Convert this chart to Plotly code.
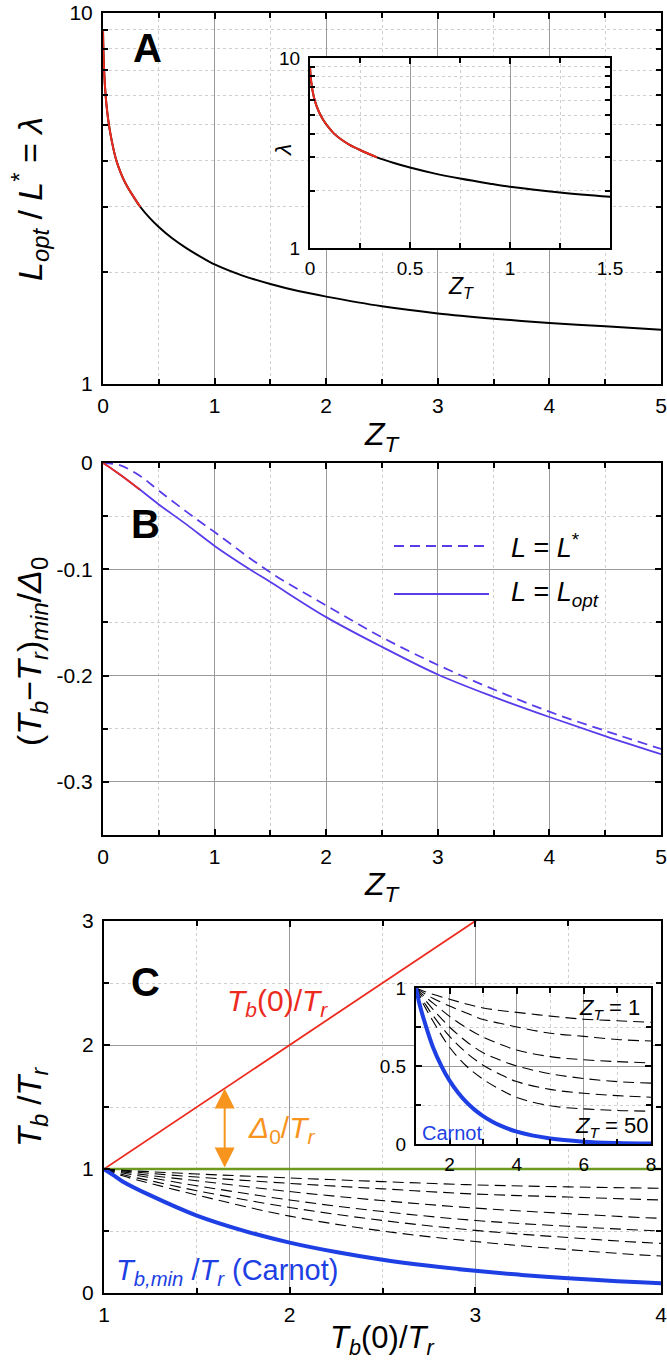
import plotly.graph_objects as go

W, H = 667, 1362

# ---------------- data ----------------
# Panel A: optimal length ratio lambda vs Z_T
zt_a = [0, 0.002, 0.006, 0.012, 0.02, 0.03, 0.045, 0.065, 0.09, 0.12, 0.16, 0.2, 0.25,
        0.335, 0.42, 0.5, 0.62, 0.75, 0.9, 1.0, 1.25, 1.5, 1.75, 2.0, 2.5, 3.0, 3.5,
        4.0, 4.5, 5.0]
lam_a = [9.0, 8.3, 7.5, 6.8, 6.2, 5.7, 5.2, 4.75, 4.35, 4.0, 3.7, 3.48, 3.28,
         3.0, 2.8, 2.65, 2.47, 2.32, 2.18, 2.1, 1.96, 1.86, 1.78, 1.72, 1.62, 1.55, 1.50,
         1.46, 1.43, 1.40]
zt_a_cut = 0.335  # end of the red branch

# Panel B: minimum normalised temperature drop
zt_b_opt = [0, 0.1, 0.2, 0.33, 0.5, 0.75, 1.0, 1.3, 1.5, 2.0, 2.5, 3.0, 3.5, 4.0, 4.5, 5.0]
drop_opt = [0, -0.007, -0.0145, -0.025, -0.039, -0.058, -0.078, -0.099, -0.112,
            -0.145, -0.173, -0.199, -0.220, -0.239, -0.257, -0.274]
zt_b_star = [0, 0.15, 0.33, 0.5, 0.75, 1.0, 1.5, 2.0, 2.5, 3.0, 3.5, 4.0, 4.5, 5.0]
drop_star = [0, -0.002, -0.012, -0.026, -0.046, -0.065, -0.103, -0.134, -0.164,
             -0.190, -0.213, -0.234, -0.252, -0.269]
zt_b_cut = 0.33

# Panel C: T_b/T_r vs T_b(0)/T_r
tb0_carnot = [1, 1.05, 1.1, 1.25, 1.5, 1.75, 2, 2.25, 2.5, 2.75, 3, 3.25, 3.5, 4, 5, 6, 7, 8]
carnot = [1, 0.95, 0.90, 0.787, 0.624, 0.503, 0.406, 0.33, 0.268, 0.219, 0.179, 0.146,
          0.119, 0.079, 0.035, 0.015, 0.0064, 0.0027]
tb0 = [1, 1.1, 1.25, 1.5, 2, 2.5, 3, 3.5, 4, 5, 6, 7, 8]
tb_curves = {
    "1":  [1, 0.990, 0.978, 0.960, 0.928, 0.898, 0.872, 0.856, 0.844, 0.82, 0.80, 0.79, 0.78],
    "2":  [1, 0.985, 0.965, 0.935, 0.884, 0.840, 0.798, 0.774, 0.750, 0.71, 0.69, 0.67, 0.66],
    "5":  [1, 0.977, 0.948, 0.905, 0.818, 0.745, 0.685, 0.640, 0.602, 0.56, 0.54, 0.528, 0.52],
    "10": [1, 0.968, 0.930, 0.865, 0.750, 0.657, 0.585, 0.538, 0.500, 0.45, 0.42, 0.40, 0.39],
    "20": [1, 0.955, 0.905, 0.825, 0.690, 0.585, 0.505, 0.447, 0.400, 0.35, 0.325, 0.31, 0.30],
    "50": [1, 0.945, 0.884, 0.790, 0.620, 0.500, 0.415, 0.350, 0.298, 0.245, 0.225, 0.215, 0.21],
}
tr_x = [1, 8]
tr_level = [1, 1]
delta_at = 1.65  # position of the Delta_0 arrow

RED = "#ec2a1e"
PURPLE = "#5a3ceb"
BLUE = "#1d3fe3"
ORANGE = "#f7941d"
GREEN = "#6b9a22"
FONT = "Liberation Sans, Arial, sans-serif"


def px(x):
    return x / W


def py(y):
    return 1 - y / H


fig = go.Figure()

# Panel A main + inset: full curve in black, low-Z branch overdrawn in red
ia = [i for i, z in enumerate(zt_a) if z <= zt_a_cut]
for xa, ya in (("x", "y"), ("x2", "y2")):
    fig.add_trace(go.Scatter(x=zt_a, y=lam_a, mode="lines",
                             line=dict(color="black", width=2, shape="spline", smoothing=0.8),
                             xaxis=xa, yaxis=ya, showlegend=False))
    fig.add_trace(go.Scatter(x=[zt_a[i] for i in ia], y=[lam_a[i] for i in ia],
                             mode="lines", line=dict(color=RED, width=2, shape="spline", smoothing=0.8),
                             xaxis=xa, yaxis=ya, showlegend=False))

# Panel B
fig.add_trace(go.Scatter(x=zt_b_star, y=drop_star, mode="lines",
                         line=dict(color=PURPLE, width=1.8, dash="10px,6px", shape="spline"),
                         xaxis="x3", yaxis="y3", showlegend=False))
fig.add_trace(go.Scatter(x=zt_b_opt, y=drop_opt, mode="lines",
                         line=dict(color=PURPLE, width=1.8, shape="spline"),
                         xaxis="x3", yaxis="y3", showlegend=False))
jb = [i for i, z in enumerate(zt_b_opt) if z <= zt_b_cut]
fig.add_trace(go.Scatter(x=[zt_b_opt[i] for i in jb], y=[drop_opt[i] for i in jb], mode="lines",
                         line=dict(color=RED, width=1.8, shape="spline"),
                         xaxis="x3", yaxis="y3", showlegend=False))

# Panel C
fig.add_trace(go.Scatter(x=tb0, y=tb0, mode="lines", line=dict(color=RED, width=1.8),
                         xaxis="x4", yaxis="y4", showlegend=False))
fig.add_trace(go.Scatter(x=tr_x, y=tr_level, mode="lines", line=dict(color=GREEN, width=2.5),
                         xaxis="x4", yaxis="y4", showlegend=False))
for xa, ya in (("x4", "y4"), ("x5", "y5")):
    for key, vals in tb_curves.items():
        fig.add_trace(go.Scatter(x=tb0, y=vals, mode="lines",
                                 line=dict(color="black", width=1.1, dash="11px,6px", shape="spline"),
                                 xaxis=xa, yaxis=ya, showlegend=False))
    fig.add_trace(go.Scatter(x=tb0_carnot, y=carnot, mode="lines",
                             line=dict(color=BLUE, width=4, shape="spline"),
                             xaxis=xa, yaxis=ya, showlegend=False))

# ---------------- axes ----------------
MAJ_GRID = "#9a9a9a"
MIN_GRID = "#cfcfcf"


def lin_axis(dom, rng, tickvals, ticktext, minor_dtick, minor_tick0, size=21, anchor=None):
    d = dict(domain=dom, range=rng, tickmode="array", tickvals=tickvals, ticktext=ticktext,
             ticks="inside", ticklen=6, tickwidth=1.5, tickcolor="black",
             showline=True, linewidth=2, linecolor="black", mirror="allticks",
             showgrid=True, gridcolor=MAJ_GRID, gridwidth=1, zeroline=False,
             tickfont=dict(family=FONT, size=size, color="black"),
             ticklabeloverflow="allow",
             minor=dict(dtick=minor_dtick, tick0=minor_tick0, ticks="inside", ticklen=5,
                        tickwidth=1.5, tickcolor="black", showgrid=True,
                        gridcolor=MIN_GRID, griddash="dot", gridwidth=1),
             automargin=False, fixedrange=True)
    if anchor:
        d["anchor"] = anchor
    return d


def log_axis(dom, size=21, anchor=None):
    d = dict(domain=dom, type="log", range=[0, 1], tickmode="array", tickvals=[1, 10],
             ticktext=["1", "10"], ticks="inside", ticklen=6, tickwidth=1.5, tickcolor="black",
             showline=True, linewidth=2, linecolor="black", mirror="allticks",
             showgrid=True, gridcolor=MAJ_GRID, zeroline=False,
             tickfont=dict(family=FONT, size=size, color="black"),
             ticklabeloverflow="allow",
             minor=dict(tickvals=[2, 3, 4, 5, 6, 7, 8, 9], ticks="inside", ticklen=5,
                        tickwidth=1.5, tickcolor="black", showgrid=True,
                        gridcolor=MIN_GRID, griddash="dot", gridwidth=1),
             automargin=False, fixedrange=True)
    if anchor:
        d["anchor"] = anchor
    return d


ax_a = [px(103), px(661)]
ay_a = [py(384), py(13)]
ax_ai = [px(310), px(610)]
ay_ai = [py(248), py(58)]
ay_b = [py(835), py(463)]
ax_c = [px(104), px(661)]
ay_c = [py(1293), py(921)]
ax_ci = [px(416), px(651)]
ay_ci = [py(1144), py(988)]

zt_ticks = [0, 1, 2, 3, 4, 5]
fig.update_layout(
    xaxis=lin_axis(ax_a, [0, 5], zt_ticks, [str(v) for v in zt_ticks], 0.5, 0, anchor="y"),
    yaxis=log_axis(ay_a, anchor="x"),
    xaxis2=lin_axis(ax_ai, [0, 1.5], [0, 0.5, 1, 1.5], ["0", "0.5", "1", "1.5"], 0.25, 0,
                    size=19, anchor="y2"),
    yaxis2=log_axis(ay_ai, size=19, anchor="x2"),
    xaxis3=lin_axis(ax_a, [0, 5], zt_ticks, [str(v) for v in zt_ticks], 0.5, 0, anchor="y3"),
    yaxis3=lin_axis(ay_b, [-0.35, 0], [0, -0.1, -0.2, -0.3], ["0", "-0.1", "-0.2", "-0.3"],
                    0.05, 0, anchor="x3"),
    xaxis4=lin_axis(ax_c, [1, 4], [1, 2, 3, 4], ["1", "2", "3", "4"], 0.5, 1, anchor="y4"),
    yaxis4=lin_axis(ay_c, [0, 3], [0, 1, 2, 3], ["0", "1", "2", "3"], 0.5, 0, anchor="x4"),
    xaxis5=lin_axis(ax_ci, [1, 8], [2, 4, 6, 8], ["2", "4", "6", "8"], 1, 1, size=19, anchor="y5"),
    yaxis5=lin_axis(ay_ci, [0, 1], [0, 0.5, 1], ["0", "0.5", "1"], 0.25, 0, size=19, anchor="x5"),
)
for k in ("yaxis", "yaxis2", "yaxis3", "yaxis4", "yaxis5"):
    fig.layout[k].ticklabelstandoff = 4
for k in ("xaxis", "xaxis2", "xaxis3", "xaxis4", "xaxis5"):
    fig.layout[k].ticklabelstandoff = 2
for k in ("xaxis2", "yaxis2", "xaxis5", "yaxis5"):
    fig.layout[k].gridcolor = MAJ_GRID

# ---------------- text ----------------
ann = []


def txt(x, y, text, size, color="black", angle=0, xanchor="center", yanchor="middle"):
    ann.append(dict(x=px(x), y=py(y), xref="paper", yref="paper", text=text, showarrow=False,
                    font=dict(family=FONT, size=size, color=color), textangle=angle,
                    xanchor=xanchor, yanchor=yanchor))


ZT = "<i>Z</i><sub><i>T</i></sub>"
# panel letters
txt(147, 48, "<b>A</b>", 40)
txt(145, 524, "<b>B</b>", 40)
txt(145, 982, "<b>C</b>", 40)
# panel A
txt(382, 436, ZT, 32)
txt(30, 199, "<i>L</i><sub><i>opt</i></sub> / <i>L</i><sup>*</sup> = <i>λ</i>", 34, angle=-90)
txt(461, 288, ZT, 23)
txt(283, 151, "<i>λ</i>", 23, angle=-90)
# panel B
txt(382, 887, ZT, 32)
txt(32, 652, "(<i>T</i><sub><i>b</i></sub>−<i>T</i><sub><i>r</i></sub>)<sub><i>min</i></sub>/<i>Δ</i><sub>0</sub>",
    34, angle=-90)
txt(509, 546, "<i>L</i> = <i>L</i><sup>*</sup>", 27, xanchor="left")
txt(509, 594, "<i>L</i> = <i>L</i><sub><i>opt</i></sub>", 27, xanchor="left")
# panel C
txt(382, 1340, "<i>T</i><sub><i>b</i></sub>(0)/<i>T</i><sub><i>r</i></sub>", 31)
txt(32, 1107, "<i>T</i><sub><i>b</i></sub> /<i>T</i><sub><i>r</i></sub>", 33, angle=-90)
txt(277, 1003, "<i>T</i><sub><i>b</i></sub>(0)/<i>T</i><sub><i>r</i></sub>", 30, color=RED)
txt(282, 1129, "<i>Δ</i><sub>0</sub>/<i>T</i><sub><i>r</i></sub>", 30, color=ORANGE)
txt(114, 1272, "<i>T</i><sub><i>b,min</i></sub> /<i>T</i><sub><i>r</i></sub> (Carnot)", 29,
    color=BLUE, xanchor="left")
txt(609, 1009, "<i>Z</i><sub><i>T</i></sub> = 1", 22)
txt(611, 1127, "<i>Z</i><sub><i>T</i></sub> = 50", 22)
txt(452, 1133, "Carnot", 20, color=BLUE)

# Delta_0 double arrow
ann.append(dict(x=delta_at, y=delta_at, ax=delta_at, ay=tr_level[0], xref="x4", yref="y4",
                axref="x4", ayref="y4", showarrow=True, arrowside="end+start",
                arrowhead=2, startarrowhead=2, arrowsize=2.0, startarrowsize=2.0,
                arrowwidth=2, arrowcolor=ORANGE, text=""))

# legend sample lines for panel B
shapes = [
    dict(type="line", xref="paper", yref="paper", x0=px(394), x1=px(489), y0=py(546), y1=py(546),
         line=dict(color=PURPLE, width=1.8, dash="10px,6px")),
    dict(type="line", xref="paper", yref="paper", x0=px(394), x1=px(489), y0=py(594), y1=py(594),
         line=dict(color=PURPLE, width=1.8)),
]

fig.update_layout(width=W, height=H, margin=dict(l=0, r=0, t=0, b=0),
                  paper_bgcolor="white", plot_bgcolor="white", annotations=ann, shapes=shapes,
                  font=dict(family=FONT, color="black"), showlegend=False)

fig.write_html("out.html")
